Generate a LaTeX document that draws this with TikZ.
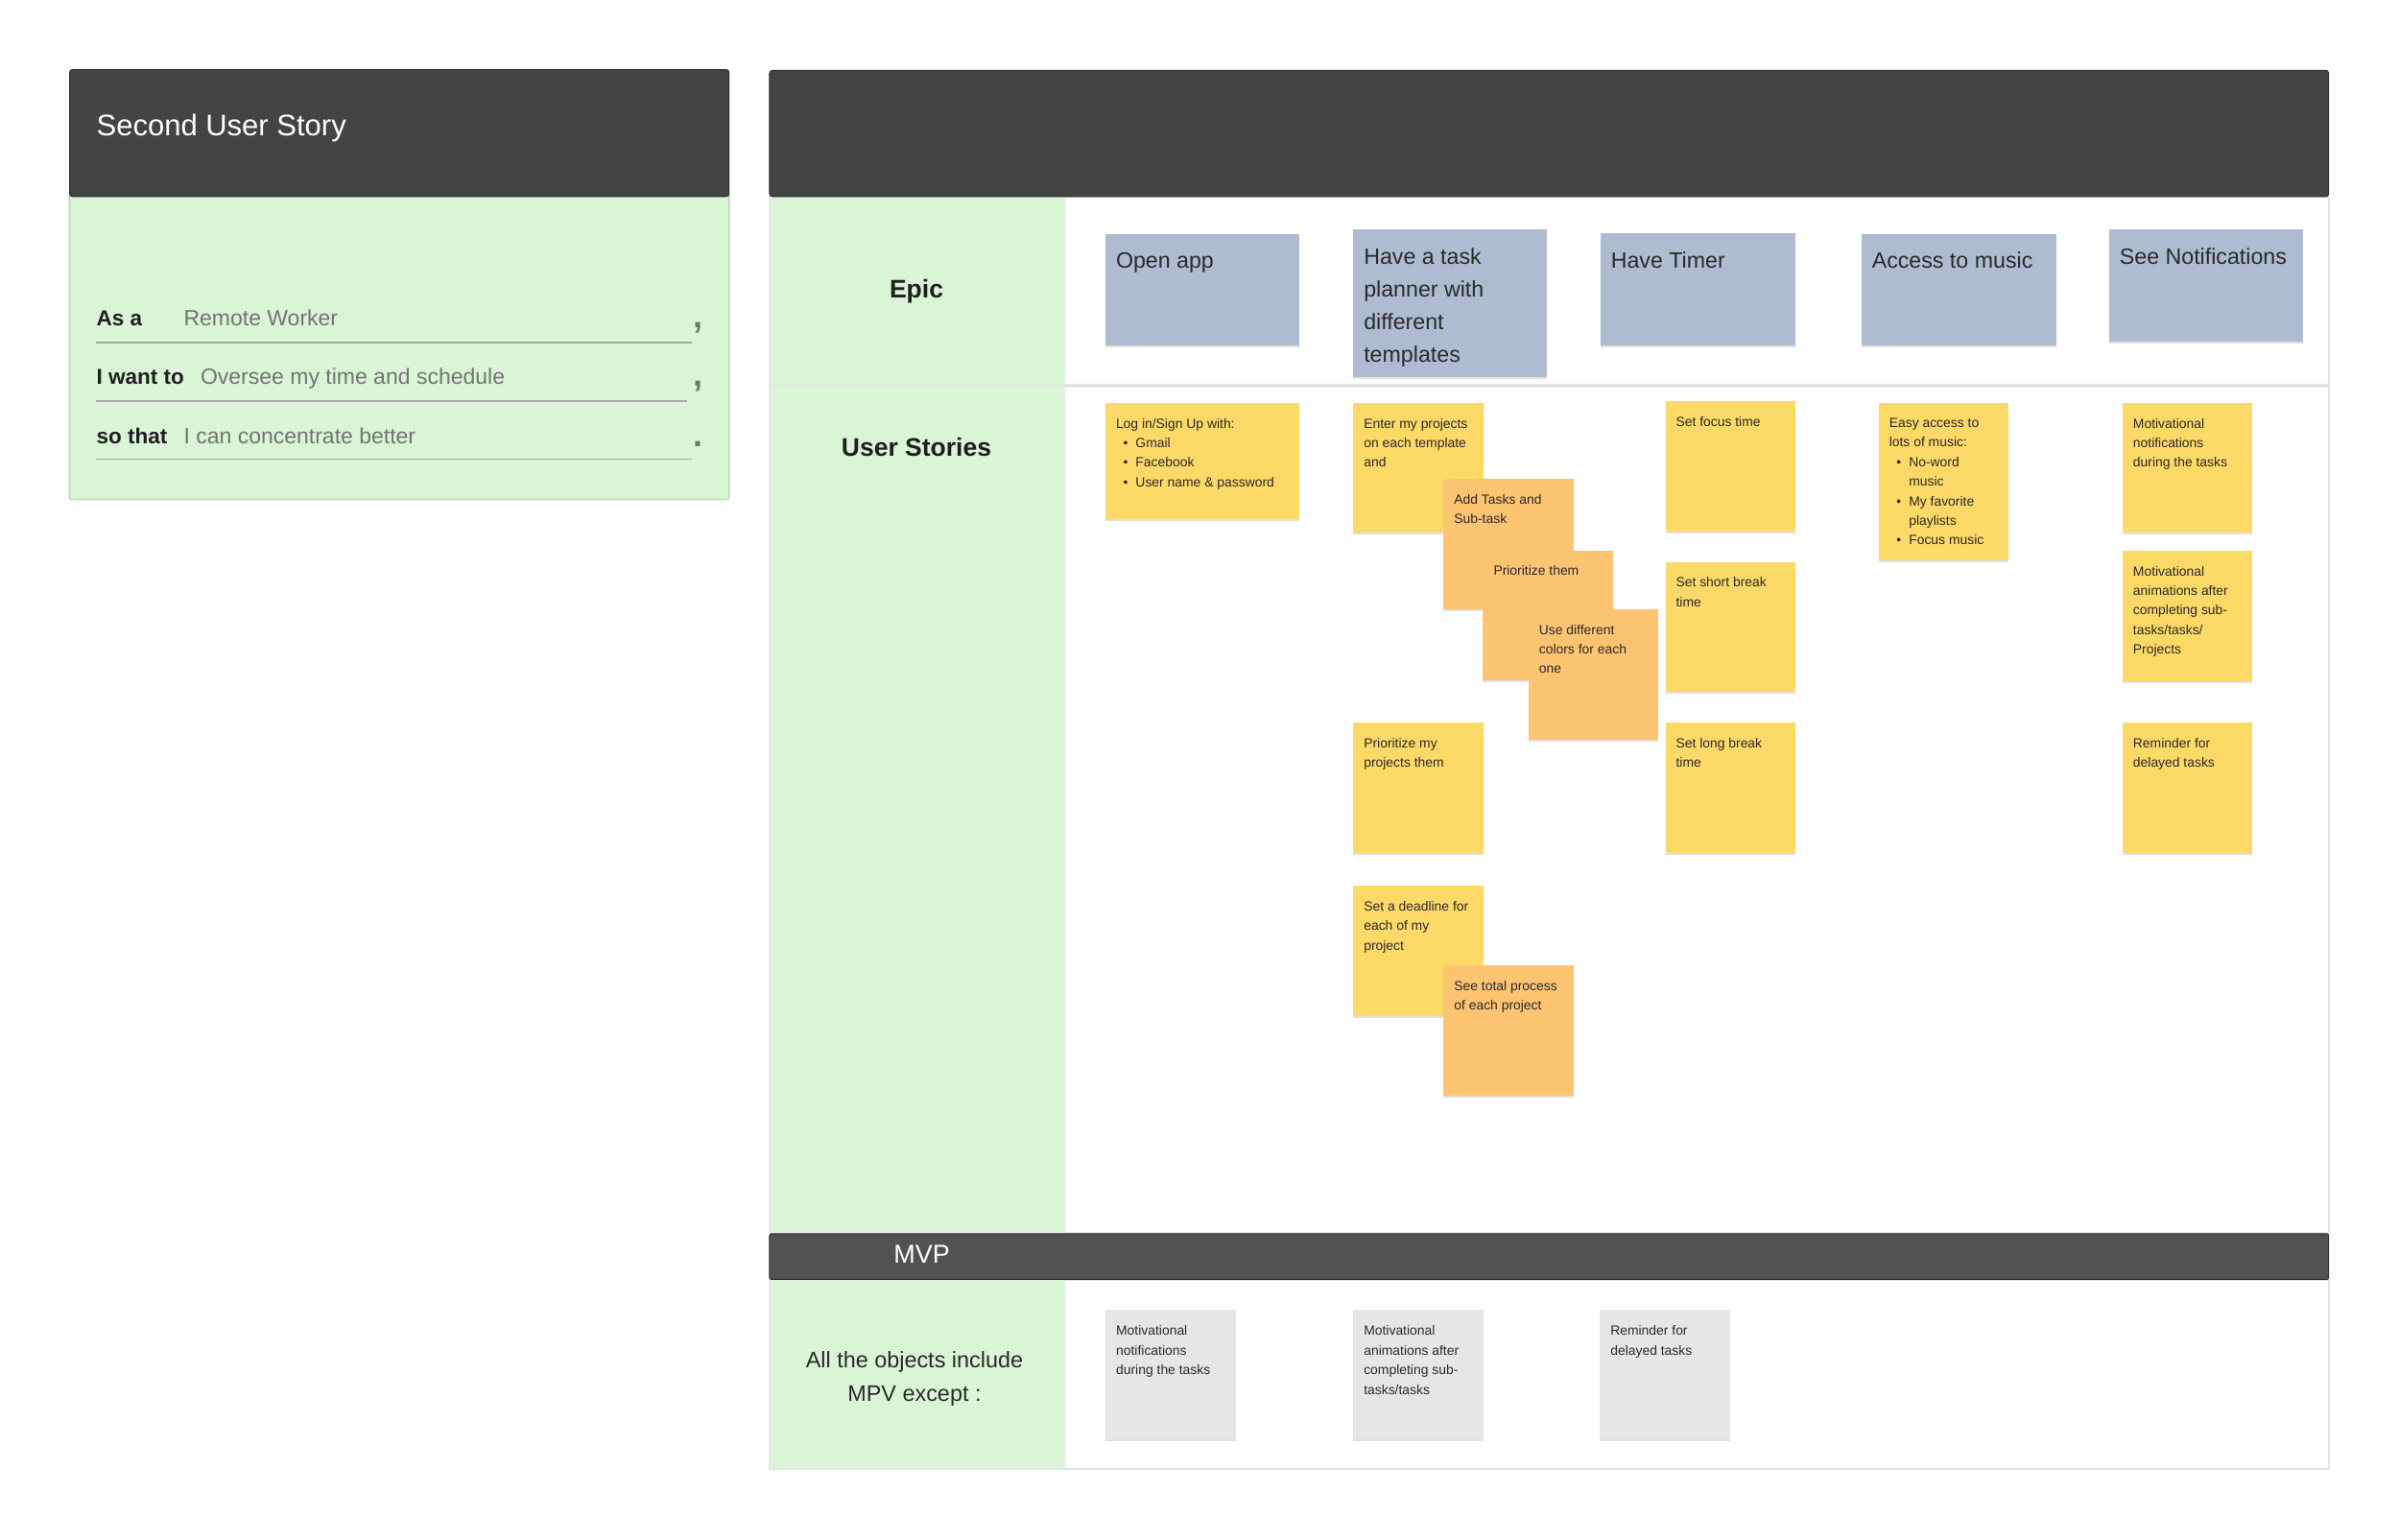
\documentclass[tikz,border=0pt]{standalone}
\usepackage{fontspec}
\setmainfont{Liberation Sans}
\usetikzlibrary{shadows}
\definecolor{hdr}{HTML}{444444}
\definecolor{hdrline}{HTML}{2F2F2F}
\definecolor{mvpbar}{HTML}{525252}
\definecolor{greenbg}{HTML}{DAF4D6}
\definecolor{greenline}{HTML}{B8DDB2}
\definecolor{epicblue}{HTML}{AFBBD0}
\definecolor{stickyY}{HTML}{FDD967}
\definecolor{stickyO}{HTML}{FDC472}
\definecolor{cardgray}{HTML}{E6E6E6}
\definecolor{ink}{HTML}{2A2A2A}
\definecolor{soft}{HTML}{737373}
\definecolor{ruleclr}{HTML}{A8A8A8}
\definecolor{frameclr}{HTML}{E3E3E3}
\newcommand\pxu{1.5944pt}
\newcommand\bl{\makebox[20.5pt][l]{\hspace{7.5pt}\textbullet}}
\newcommand\ind{\hspace*{20.5pt}}
\newcommand\card[9]{%
  \node[cardbox,#6,anchor=north west,minimum width=#4*\pxu,minimum height=#5*\pxu] (#1) at (#2,#3) {};
  \node[#7,anchor=north west] (#1-txt) at ([xshift=6.8*\pxu,yshift=-#8*\pxu]#1.north west) {#9};}
\tikzset{
  cardbox/.style={inner sep=0pt, outer sep=0pt, drop shadow={shadow xshift=0pt, shadow yshift=-2pt, opacity=0.12, fill=black}},
  epiccard/.style={fill=epicblue},
  yellowcard/.style={fill=stickyY},
  orangecard/.style={fill=stickyO},
  graycard/.style={fill=cardgray},
  stickytext/.style={inner sep=0pt, align=left, text=ink, font=\fontsize{13.9}{20.4}\selectfont},
  epictext/.style={inner sep=0pt, align=left, text=ink, font=\fontsize{23.2}{34.2}\selectfont},
  hdrbox/.style={fill=hdr, draw=hdrline, line width=1pt, rounded corners=3pt},
  rowframe/.style={draw=frameclr, line width=2pt, fill=white},
  lbl/.style={inner sep=0pt, anchor=base west, text=black!88, font=\fontsize{22.5}{27}\selectfont\bfseries},
  val/.style={inner sep=0pt, anchor=base west, text=soft, font=\fontsize{23}{27}\selectfont},
  punct/.style={inner sep=0pt, anchor=base, text=soft, font=\fontsize{36}{38}\selectfont\bfseries},
  ul/.style={draw=ruleclr, line width=1.6pt},
  rowhead/.style={inner sep=0pt, anchor=base, text=black!88, font=\fontsize{26.5}{30}\selectfont\bfseries},
}
\begin{document}
\begin{tikzpicture}[x=1.5944pt, y=-1.5944pt]
\useasboundingbox (0,0) rectangle (1568,1006.6);
\fill[white] (0,0) rectangle (1568,1006.6);

% ---------------- left panel ----------------
\fill[greenbg, draw=greenline, line width=1.6pt, rounded corners=2pt] (45.5,126) rectangle (476.5,326.5);
\path[hdrbox] (45.5,45.5) rectangle (476.5,128.5);
\node[inner sep=0pt, anchor=base west, text=white, font=\fontsize{31}{36}\selectfont] (title) at (63,89) {Second User Story};

\node[lbl] (asa) at (63,213) {As a};
\node[val] (asav) at (120,213) {Remote Worker};
\coordinate (r1a) at (63,224); \coordinate (r1b) at (452,224);
\draw[ul] (r1a) -- (r1b);
\node[punct] (c1) at (456,214.5) {,};

\node[lbl] (iwant) at (63,251) {I want to};
\node[val] (iwantv) at (131,251) {Oversee my time and schedule};
\coordinate (r2a) at (63,262); \coordinate (r2b) at (449,262);
\draw[ul] (r2a) -- (r2b);
\node[punct] (c2) at (456,252.5) {,};

\node[lbl] (sothat) at (63,290) {so that};
\node[val] (sothatv) at (120,290) {I can concentrate better};
\coordinate (r3a) at (63,300); \coordinate (r3b) at (452,300);
\draw[ul] (r3a) -- (r3b);
\node[punct] (c3) at (456,291.7) {.};

% ---------------- board ----------------
\path[rowframe] (503,128.5) rectangle (1522,251.5);
\fill[greenbg] (503,128.5) rectangle (696,251.5);
\path[rowframe] (503,253) rectangle (1522,806);
\fill[greenbg] (503,253) rectangle (696,806);
\path[rowframe] (503,836.5) rectangle (1522,960);
\fill[greenbg] (503,836.5) rectangle (696,960);
\path[hdrbox] (503,46) rectangle (1522,128.5);
\path[fill=mvpbar, draw=hdrline, line width=1pt, rounded corners=2pt] (503,806.5) rectangle (1522,836.3);

\node[rowhead] (epic) at (599,195) {Epic};
\node[rowhead] (ustories) at (599,298) {User Stories};
\node[inner sep=0pt, anchor=base, text=white, font=\fontsize{27}{30}\selectfont] (mvp) at (602.5,825.5) {MVP};
\node[inner sep=0pt, anchor=north, align=center, text=ink, font=\fontsize{23.4}{35}\selectfont] (except) at (597.7,883.3) {All the objects include\\MPV except :};

% epics
\card{e1}{722.5}{153}{127}{72.5}{epiccard}{epictext}{11.9}{Open app}
\card{e2}{884.5}{150}{126.5}{96.5}{epiccard}{epictext}{11.9}{Have a task\\planner with\\different\\templates}
\card{e3}{1046}{152.5}{127.5}{73}{epiccard}{epictext}{11.9}{Have Timer}
\card{e4}{1216.6}{153}{127.2}{72.5}{epiccard}{epictext}{11.9}{Access to music}
\card{e5}{1378.5}{150}{127}{73}{epiccard}{epictext}{11.9}{See Notifications}

% user stories
\card{s1}{722.5}{263.5}{127}{76}{yellowcard}{stickytext}{9.9}{Log in/Sign Up with:\\\bl Gmail\\\bl Facebook\\\bl User name \& password}
\card{s2}{884.5}{263.4}{85}{85}{yellowcard}{stickytext}{9.9}{Enter my projects\\on each template\\and}
\card{s3}{943.5}{313}{85}{85}{orangecard}{stickytext}{9.9}{Add Tasks and\\Sub-task}
\card{s4}{969.3}{359.8}{85}{85}{orangecard}{stickytext}{9.9}{Prioritize them}
\card{s5}{999}{398.3}{85}{85}{orangecard}{stickytext}{9.9}{Use different\\colors for each\\one}
\card{s6}{884.5}{472.3}{85}{85}{yellowcard}{stickytext}{9.9}{Prioritize my\\projects them}
\card{s7}{884.5}{579.1}{85}{85}{yellowcard}{stickytext}{9.9}{Set a deadline for\\each of my\\project}
\card{s8}{943.5}{631.2}{85}{85}{orangecard}{stickytext}{9.9}{See total process\\of each project}
\card{s9}{1088.5}{262.4}{85}{85}{yellowcard}{stickytext}{9.9}{Set focus time}
\card{s10}{1088.5}{367.3}{85}{85}{yellowcard}{stickytext}{9.9}{Set short break\\time}
\card{s11}{1088.5}{472.3}{85}{85}{yellowcard}{stickytext}{9.9}{Set long break\\time}
\card{s12}{1227.9}{263.4}{85}{103}{yellowcard}{stickytext}{9.9}{Easy access to\\lots of music:\\\bl No-word\\\ind music\\\bl My favorite\\\ind playlists\\\bl Focus music}
\card{s13}{1387.3}{263.4}{85}{85}{yellowcard}{stickytext}{9.9}{Motivational\\notifications\\during the tasks}
\card{s14}{1387.3}{360}{85}{85}{yellowcard}{stickytext}{9.9}{Motivational\\animations after\\completing sub-\\tasks/tasks/\\Projects}
\card{s15}{1387.3}{472.3}{85}{85}{yellowcard}{stickytext}{9.9}{Reminder for\\delayed tasks}

% MVP exceptions
\card{g1}{722.6}{856.1}{85}{85}{graycard}{stickytext}{10.5}{Motivational\\notifications\\during the tasks}
\card{g2}{884.5}{856.1}{85}{85}{graycard}{stickytext}{10.5}{Motivational\\animations after\\completing sub-\\tasks/tasks}
\card{g3}{1045.7}{856.1}{85}{85}{graycard}{stickytext}{10.5}{Reminder for\\delayed tasks}
\end{tikzpicture}
\end{document}
